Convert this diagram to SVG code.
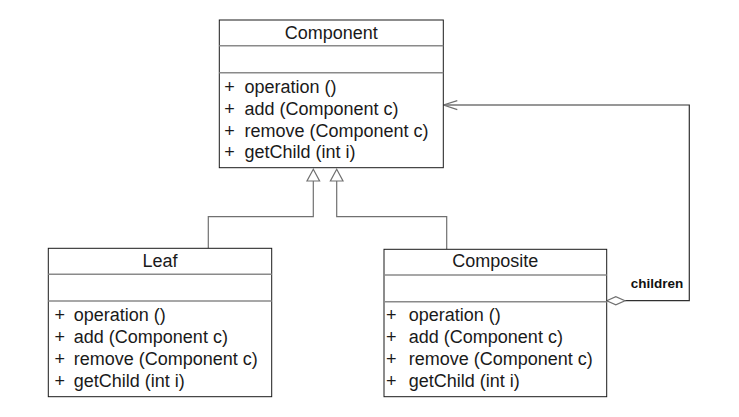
<svg xmlns="http://www.w3.org/2000/svg" width="739" height="417" viewBox="0 0 739 417">
<style>
.box{fill:#fff;stroke:#1a1a1a;stroke-width:1}
.sep{stroke:#8a8a8a;stroke-width:1.5}
.t{font-family:"Liberation Sans",Arial,sans-serif;font-size:18px;fill:#1a1a1a}
.title{text-anchor:middle}
.con{fill:none;stroke:#707070;stroke-width:1.2}
.lbl{font-family:"Liberation Sans",Arial,sans-serif;font-size:13.5px;font-weight:bold;fill:#111}
</style>
<rect width="739" height="417" fill="#fff"/>
<g id="connectors">
  <polyline class="con" points="313.3,181 313.3,216.7 208.3,216.7 208.3,248.3"/>
  <polyline class="con" points="336.7,181 336.7,216.7 446.7,216.7 446.7,249.3"/>
  <polygon points="313.3,169.3 307,181 319.6,181" fill="#fff" stroke="#707070" stroke-width="1.2"/>
  <polygon points="336.7,169.3 330.4,181 343,181" fill="#fff" stroke="#707070" stroke-width="1.2"/>
  <polyline class="con" points="625,300.7 689.3,300.7 689.3,105 443.3,105" style="stroke:#303030"/>
  <polygon points="606.7,300.7 615.8,296.6 625,300.7 615.8,304.8" fill="#fff" stroke="#707070" stroke-width="1.2"/>
  <polyline class="con" points="457.3,100.6 443.5,105 457.3,109.6"/>
  <text class="lbl" x="630.7" y="288.3">children</text>
</g>
<g id="component">
  <rect class="box" x="219.3" y="20" width="224" height="147.7"/>
  <line class="sep" x1="219.3" y1="45.7" x2="443.3" y2="45.7"/>
  <line class="sep" x1="219.3" y1="72.7" x2="443.3" y2="72.7"/>
  <text class="t title" x="331.3" y="39.3">Component</text>
  <text class="t" x="224.3" y="92.7">+</text><text class="t" x="244.5" y="92.7">operation ()</text>
  <text class="t" x="224.3" y="114.6">+</text><text class="t" x="244.5" y="114.6">add (Component c)</text>
  <text class="t" x="224.3" y="136.5">+</text><text class="t" x="244.5" y="136.5">remove (Component c)</text>
  <text class="t" x="224.3" y="158.4">+</text><text class="t" x="244.5" y="158.4">getChild (int i)</text>
</g>
<g id="leaf">
  <rect class="box" x="48.3" y="248.3" width="223.4" height="148.4"/>
  <line class="sep" x1="48.3" y1="274.3" x2="271.7" y2="274.3"/>
  <line class="sep" x1="48.3" y1="301" x2="271.7" y2="301"/>
  <text class="t title" x="160" y="266.7">Leaf</text>
  <text class="t" x="54.5" y="320.7">+</text><text class="t" x="73.8" y="320.7">operation ()</text>
  <text class="t" x="54.5" y="342.9">+</text><text class="t" x="73.8" y="342.9">add (Component c)</text>
  <text class="t" x="54.5" y="365.1">+</text><text class="t" x="73.8" y="365.1">remove (Component c)</text>
  <text class="t" x="54.5" y="387.3">+</text><text class="t" x="73.8" y="387.3">getChild (int i)</text>
</g>
<g id="composite">
  <rect class="box" x="384" y="249.3" width="222.7" height="147.4"/>
  <line class="sep" x1="384" y1="275" x2="606.7" y2="275"/>
  <line class="sep" x1="384" y1="301.7" x2="606.7" y2="301.7"/>
  <text class="t title" x="495.3" y="267.3">Composite</text>
  <text class="t" x="386" y="321.4">+</text><text class="t" x="408.8" y="321.4">operation ()</text>
  <text class="t" x="386" y="343.4">+</text><text class="t" x="408.8" y="343.4">add (Component c)</text>
  <text class="t" x="386" y="365.4">+</text><text class="t" x="408.8" y="365.4">remove (Component c)</text>
  <text class="t" x="386" y="387.4">+</text><text class="t" x="408.8" y="387.4">getChild (int i)</text>
</g>
</svg>
